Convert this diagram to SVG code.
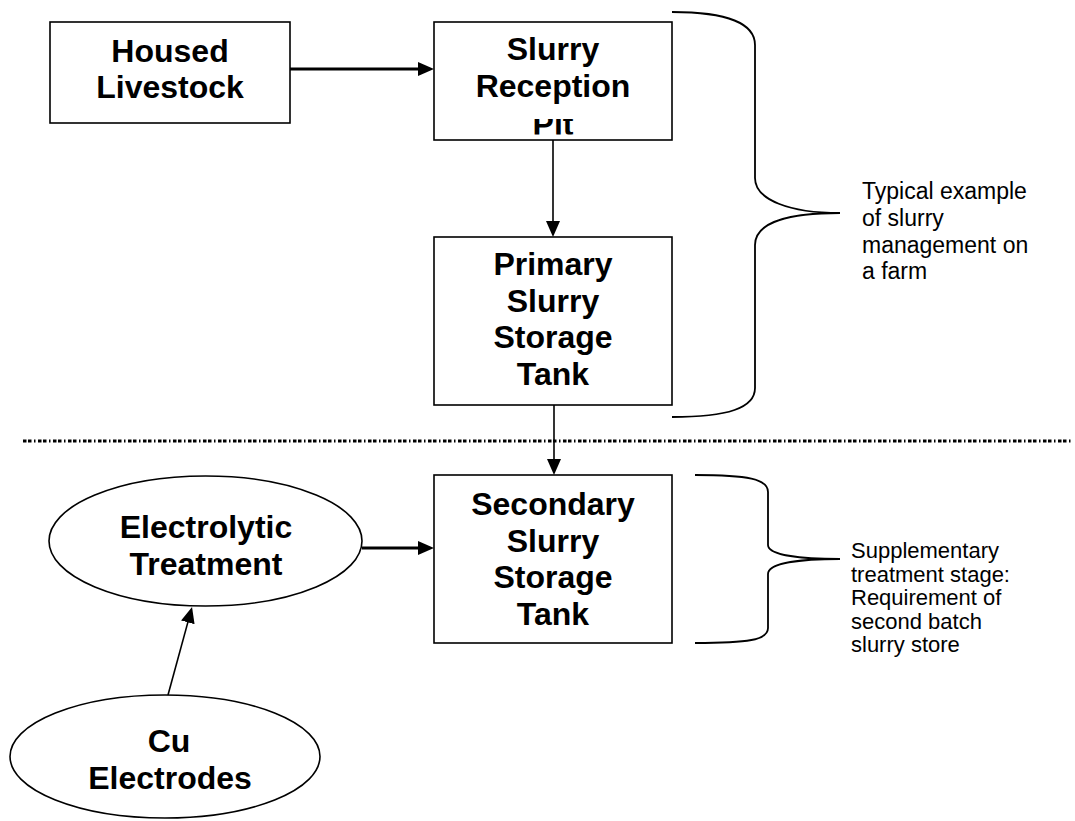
<svg xmlns="http://www.w3.org/2000/svg" width="1075" height="821" viewBox="0 0 1075 821">
<style>
.box{fill:#fff;stroke:#000;stroke-width:1.6}
.b{font-family:"Liberation Sans",Arial,sans-serif;font-weight:bold;font-size:32px;text-anchor:middle;fill:#000}
.n{font-family:"Liberation Sans",Arial,sans-serif;font-size:23px;fill:#000}
.s{font-family:"Liberation Sans",Arial,sans-serif;font-size:22px;fill:#000}
.thin{stroke:#000;stroke-width:1.6;fill:none}
.thick{stroke:#000;stroke-width:3.2;fill:none}
.brace{stroke:#000;stroke-width:1.8;fill:none}
</style>
<defs>
<marker id="ah" viewBox="0 0 16 14" refX="6" refY="7" markerWidth="16" markerHeight="14" markerUnits="userSpaceOnUse" orient="auto">
<path d="M0,0 L16,7 L0,14 z" fill="#000"/>
</marker>
<clipPath id="pitclip"><rect x="434" y="119" width="238" height="15.5"/></clipPath>
</defs>
<rect width="1075" height="821" fill="#fff"/>

<g id="connectors">
<line class="thick" x1="290" y1="69" x2="424" y2="69" marker-end="url(#ah)"/>
<line class="thin" x1="553" y1="140" x2="553" y2="227" marker-end="url(#ah)"/>
<line class="thin" x1="554" y1="405" x2="554" y2="465" marker-end="url(#ah)"/>
<line class="thick" x1="362" y1="548" x2="424" y2="548" marker-end="url(#ah)"/>
<line class="thin" x1="168" y1="695" x2="189.4" y2="616.6" marker-end="url(#ah)"/>
</g>

<g id="divider">
<line x1="23" y1="441" x2="1073" y2="441" stroke="#000" stroke-width="3" stroke-dasharray="3.5,1.5,3.5,2.5,1.5,2.5"/>
</g>

<g id="housed">
<rect class="box" x="50" y="22" width="240" height="101"/>
<text class="b" x="170" y="62">Housed</text>
<text class="b" x="170" y="97.5">Livestock</text>
</g>

<g id="reception">
<rect class="box" x="434" y="22" width="238" height="118"/>
<text class="b" x="553" y="60">Slurry</text>
<text class="b" x="553" y="97">Reception</text>
<text class="b" x="553" y="134.5" clip-path="url(#pitclip)">Pit</text>
</g>

<g id="primary">
<rect class="box" x="434" y="237" width="238" height="168"/>
<text class="b" x="553" y="275">Primary</text>
<text class="b" x="553" y="312">Slurry</text>
<text class="b" x="553" y="348">Storage</text>
<text class="b" x="553" y="385">Tank</text>
</g>

<g id="secondary">
<rect class="box" x="434" y="475" width="238" height="168"/>
<text class="b" x="553" y="515">Secondary</text>
<text class="b" x="553" y="552">Slurry</text>
<text class="b" x="553" y="588">Storage</text>
<text class="b" x="553" y="625">Tank</text>
</g>

<g id="electrolytic">
<ellipse class="box" cx="205.5" cy="541" rx="156.5" ry="65"/>
<text class="b" x="206" y="538">Electrolytic</text>
<text class="b" x="206" y="575">Treatment</text>
</g>

<g id="electrodes">
<ellipse class="box" cx="165" cy="756.5" rx="155" ry="61.5"/>
<text class="b" x="169" y="752">Cu</text>
<text class="b" x="170" y="789">Electrodes</text>
</g>

<g id="brace-farm">
<path class="brace" d="M672,12 C728,12 755,24 755,45 L755,178 C755,200 790,213 840,213 C790,213 755,222 755,245 L755,388 C755,408 728,417 672,417"/>
<text class="n" x="862" y="199">Typical example</text>
<text class="n" x="862" y="226">of slurry</text>
<text class="n" x="862" y="253">management on</text>
<text class="n" x="862" y="279">a farm</text>
</g>

<g id="brace-supplementary">
<path class="brace" d="M695,475 C748,475 768,479 768,492 L768,545 C768,555 800,559 840,559 C800,559 768,563 768,574 L768,628 C768,640 748,643 695,643"/>
<text class="s" x="851" y="558">Supplementary</text>
<text class="s" x="851" y="581.5">treatment stage:</text>
<text class="s" x="851" y="605">Requirement of</text>
<text class="s" x="851" y="628.5">second batch</text>
<text class="s" x="851" y="652">slurry store</text>
</g>
</svg>
